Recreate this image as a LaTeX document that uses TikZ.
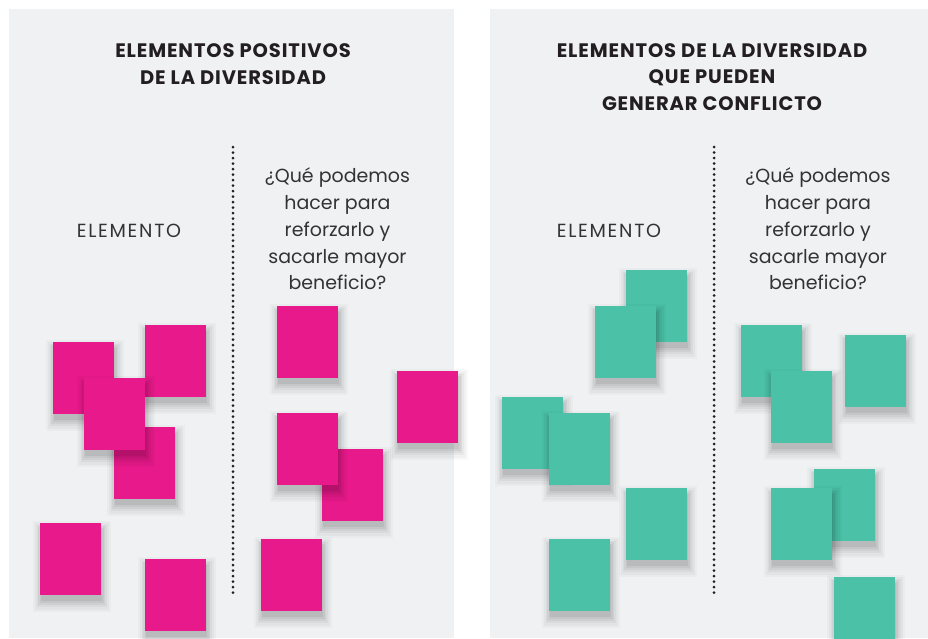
\documentclass[tikz,border=0pt]{standalone}
\usepackage{fontspec}
\setmainfont{Poppins}
\newfontfamily\titlefont[LetterSpace=4.5]{Poppins}
\newfontfamily\capsfont[LetterSpace=9]{Poppins}
\usetikzlibrary{shadows}
\definecolor{panelbg}{HTML}{F0F1F3}
\definecolor{pinknote}{HTML}{E8198B}
\definecolor{tealnote}{HTML}{4BC1A8}
\definecolor{inkdark}{HTML}{231F20}
\definecolor{inkbody}{HTML}{333333}
\tikzset{
  panel/.style={fill=panelbg, draw=none},
  note/.style={minimum width=61pt, minimum height=72pt, inner sep=0pt, draw=none,
    general shadow={fill=black, opacity=0.05, shadow xshift=1pt, shadow yshift=-6pt, shadow scale=1.00},
    general shadow={fill=black, opacity=0.05, shadow xshift=1pt, shadow yshift=-6pt, shadow scale=1.05},
    general shadow={fill=black, opacity=0.045, shadow xshift=1pt, shadow yshift=-6pt, shadow scale=1.10},
    general shadow={fill=black, opacity=0.035, shadow xshift=1pt, shadow yshift=-6pt, shadow scale=1.15},
    general shadow={fill=black, opacity=0.03, shadow xshift=1pt, shadow yshift=-6pt, shadow scale=1.21},
    general shadow={fill=black, opacity=0.025, shadow xshift=1pt, shadow yshift=-6pt, shadow scale=1.27}},
  pinkbox/.style={note, fill=pinknote},
  tealbox/.style={note, fill=tealnote},
  titletext/.style={font=\titlefont\fontsize{19.5}{26.5}\selectfont\bfseries, text=inkdark, align=center, inner sep=0pt},
  bodytext/.style={font=\fontsize{19}{26.75}\selectfont, text=inkbody, align=center, inner sep=0pt},
  capstext/.style={font=\capsfont\fontsize{19}{26.75}\selectfont, text=inkbody, align=center, inner sep=0pt},
  divider/.style={draw=inkdark, line width=3pt, dash pattern=on 0pt off 5.5pt, line cap=round},
}
\begin{document}
\begin{tikzpicture}[x=1pt,y=-1pt]
\useasboundingbox (0,0) rectangle (928,638);
\fill[white] (0,0) rectangle (928,638);
% panels
\path[panel] (9,9) rectangle (454,638);
\path[panel] (490,9) rectangle (928,638);
% titles
\node[titletext] (t1) at (233,64) {ELEMENTOS POSITIVOS\\DE LA DIVERSIDAD};
\node[titletext] (t2) at (712,77) {ELEMENTOS DE LA DIVERSIDAD\\QUE PUEDEN\\GENERAR CONFLICTO};
% column labels
\node[capstext] (e1) at (129,231) {ELEMENTO};
\node[capstext] (e2) at (609,231) {ELEMENTO};
\node[bodytext] (q1) at (337.5,229) {¿Qué podemos\\hacer para\\reforzarlo y\\sacarle mayor\\beneficio?};
\node[bodytext] (q2) at (818,229) {¿Qué podemos\\hacer para\\reforzarlo y\\sacarle mayor\\beneficio?};
% dividers
\coordinate (d1a) at (233,147);
\coordinate (d1b) at (233,594);
\coordinate (d2a) at (714,147);
\coordinate (d2b) at (714,594);
\draw[divider] (d1a) -- (d1b);
\draw[divider] (d2a) -- (d2b);
% left panel notes
\node[pinkbox] (pA) at (83.5,378) {};
\node[pinkbox] (pB) at (175.5,361) {};
\node[pinkbox] (pD) at (144.5,463) {};
\node[pinkbox] (pC) at (114.5,414) {};
\node[pinkbox] (pE) at (70.5,559) {};
\node[pinkbox] (pF) at (175.5,595) {};
\node[pinkbox] (pG) at (307.5,342) {};
\node[pinkbox] (pH) at (427.5,407) {};
\node[pinkbox] (pJ) at (352.5,485) {};
\node[pinkbox] (pI) at (307.5,449) {};
\node[pinkbox] (pK) at (291.5,575) {};
% right panel notes
\node[tealbox] (ta) at (656.5,306) {};
\node[tealbox] (tb) at (625.5,342) {};
\node[tealbox] (tc) at (532.5,433) {};
\node[tealbox] (td) at (579.5,449) {};
\node[tealbox] (te) at (656.5,524) {};
\node[tealbox] (tf) at (579.5,575) {};
\node[tealbox] (tg) at (771.5,361) {};
\node[tealbox] (th) at (801.5,407) {};
\node[tealbox] (ti) at (875.5,371) {};
\node[tealbox] (tj) at (844.5,505) {};
\node[tealbox] (tk) at (801.5,524) {};
\node[tealbox] (tl) at (864.5,613) {};
\end{tikzpicture}
\end{document}
